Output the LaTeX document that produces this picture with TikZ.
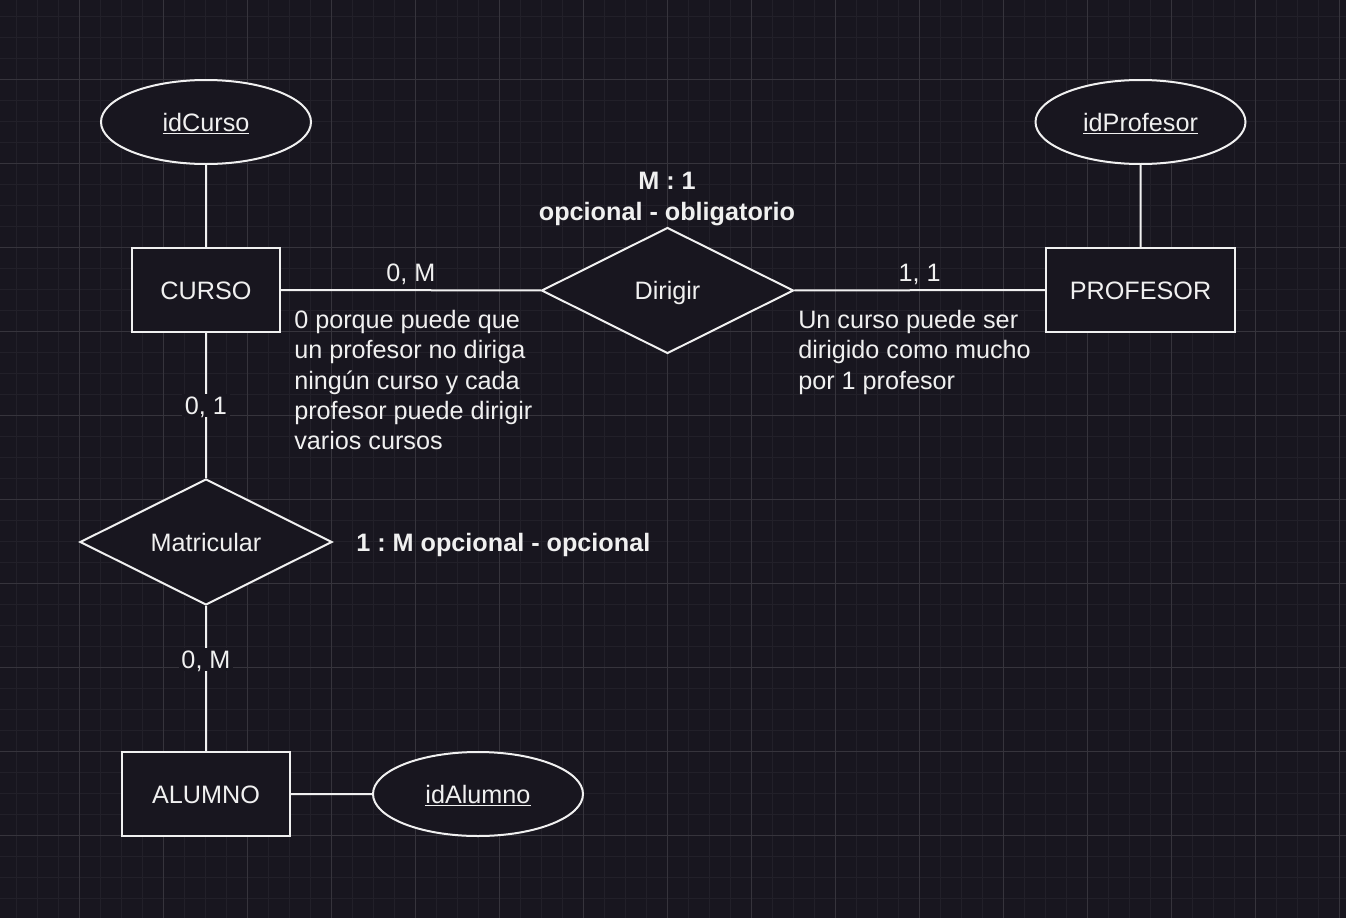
\documentclass[tikz,border=0pt]{standalone}
\usepackage{fontspec}
\setmainfont{Liberation Sans}
\usetikzlibrary{shapes.geometric}
\definecolor{bgc}{RGB}{24,22,31}
\definecolor{gridminor}{RGB}{34,32,41}
\definecolor{gridmajor}{RGB}{54,52,60}
\definecolor{ink}{RGB}{240,240,240}
\frenchspacing
\tikzset{
  txt/.style={text height=13.5pt, text depth=0pt},
  entity/.style={txt, draw=ink, fill=bgc, rectangle, minimum height=63pt, line width=1.5pt},
  attrib/.style={txt, draw=ink, fill=bgc, ellipse, minimum width=157.5pt, minimum height=63pt, line width=1.5pt},
  relation/.style={txt, draw=ink, fill=bgc, diamond, aspect=2, inner sep=0pt, minimum width=189pt, minimum height=94.5pt, line width=1.5pt},
  card/.style={txt, fill=bgc, inner sep=2pt},
  note/.style={align=left, anchor=north west, inner sep=0pt}
}
\begin{document}
\begin{tikzpicture}[x=0.75pt, y=-0.75pt, color=ink, font=\fontsize{18.9}{22.7}\selectfont]%ER curso-profesor-alumno
\fill[bgc] (0,0) rectangle (1346,918);
\useasboundingbox (0,0) rectangle (1346,918);
\foreach \g in {16.5,37.5,...,1346} {\draw[gridminor, line width=1pt] (\g,0) -- (\g,918);}
\foreach \g in {16.5,37.5,...,918} {\draw[gridminor, line width=1pt] (0,\g) -- (1346,\g);}
\foreach \g in {79.5,163.5,...,1346} {\draw[gridmajor, line width=0.8pt] (\g,0) -- (\g,918);}
\foreach \g in {79.5,163.5,...,918} {\draw[gridmajor, line width=0.8pt] (0,\g) -- (1346,\g);}
% entidades y atributos
\node[entity, minimum width=111pt] (curso) at (206,290) {CURSO};
\node[entity, minimum width=141.75pt] (profesor) at (1140.5,290) {PROFESOR};
\node[entity, minimum width=126pt] (alumno) at (206,794) {ALUMNO};
\node[attrib] (idcurso) at (206,122) {\underline{idCurso}};
\node[attrib] (idprofesor) at (1140.5,122) {\underline{idProfesor}};
\node[attrib] (idalumno) at (478,794) {\underline{idAlumno}};
% relaciones
\node[relation] (dirigir) at (667.5,290.5) {Dirigir};
\node[relation] (matricular) at (206,542) {Matricular};
\draw[line width=1.5pt] (idcurso) -- (curso)
  (idprofesor) -- (profesor)
  (alumno) -- (idalumno)
  (curso) -- node[txt, midway, above, inner sep=6pt]{0, M} (dirigir)
  (dirigir) -- node[txt, midway, above, inner sep=6pt]{1, 1} (profesor)
  (curso) -- node[card, midway]{0, 1} (matricular)
  (matricular) -- node[card, pos=0.37]{0, M} (alumno);
% notas
\node[align=center, font=\fontsize{18.9}{23.2}\selectfont\bfseries] (tdirigir) at (667,199) {M : 1\\opcional - obligatorio};
\node[txt, anchor=west, inner sep=0pt, font=\fontsize{18.9}{22.7}\selectfont\bfseries] (tmatricular) at (356,542) {1 : M opcional - opcional};
\node[note] (ncurso) at (294,310) {0 porque puede que\\un profesor no diriga\\ningún curso y cada\\profesor puede dirigir\\varios cursos};
\node[note] (nprofesor) at (798,310) {Un curso puede ser\\dirigido como mucho\\por 1 profesor};
\end{tikzpicture}
\end{document}
